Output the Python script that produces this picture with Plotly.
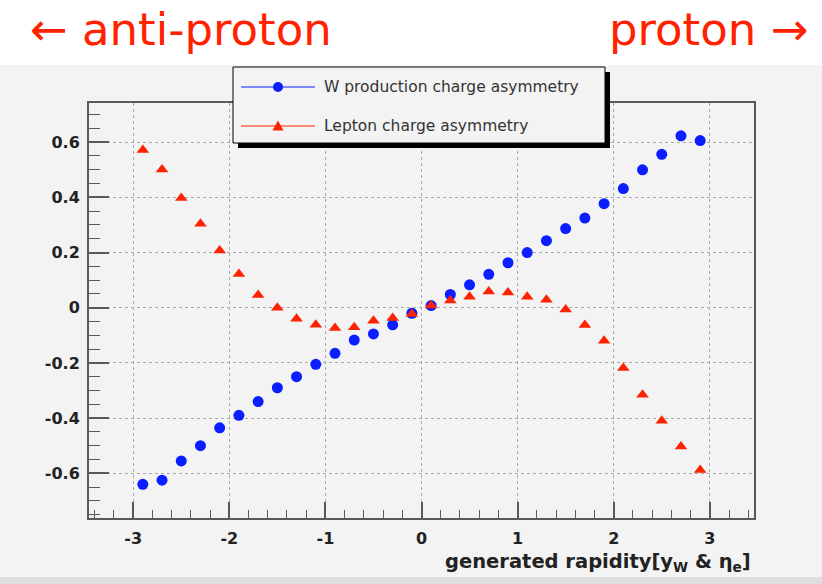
import plotly.graph_objects as go

# ---------------- data ----------------
rapidity = [-2.9, -2.7, -2.5, -2.3, -2.1, -1.9, -1.7, -1.5, -1.3, -1.1,
            -0.9, -0.7, -0.5, -0.3, -0.1, 0.1, 0.3, 0.5, 0.7, 0.9,
            1.1, 1.3, 1.5, 1.7, 1.9, 2.1, 2.3, 2.5, 2.7, 2.9]
w_asym = [-0.640, -0.625, -0.555, -0.500, -0.435, -0.390, -0.340, -0.290, -0.250, -0.205,
          -0.165, -0.117, -0.095, -0.062, -0.020, 0.008, 0.048, 0.083, 0.121, 0.163,
          0.200, 0.243, 0.287, 0.325, 0.377, 0.432, 0.500, 0.556, 0.623, 0.606]
lep_asym = [0.572, 0.501, 0.398, 0.304, 0.207, 0.122, 0.046, 0.000, -0.040, -0.062,
            -0.073, -0.071, -0.047, -0.037, -0.023, 0.008, 0.026, 0.040, 0.059, 0.055,
            0.040, 0.029, -0.006, -0.063, -0.120, -0.218, -0.315, -0.410, -0.503, -0.588]
x_tick_vals = [-3, -2, -1, 0, 1, 2, 3]
x_tick_labels = ["-3", "-2", "-1", "0", "1", "2", "3"]
y_tick_vals = [-0.6, -0.4, -0.2, 0, 0.2, 0.4, 0.6]
y_tick_labels = ["-0.6", "-0.4", "-0.2", "0", "0.2", "0.4", "0.6"]
series_names = ["W production charge asymmetry", "Lepton charge asymmetry"]

# ---------------- layout geometry ----------------
W, H = 822, 584
L, R, T, B = 89, 68, 103, 66
PW, PH = W - L - R, H - T - B

def px(x):
    return (x - L) / PW

def py(y):
    return (H - B - y) / PH

BLUE = "#0a1eff"
RED = "#ff2200"
BG = "#f3f3f3"
AX = "#5a5a5a"
FONT = "DejaVu Sans, sans-serif"

fig = go.Figure()
fig.add_trace(go.Scatter(x=rapidity, y=w_asym, mode="markers", name=series_names[0],
                         marker=dict(symbol="circle", size=11, color=BLUE), showlegend=False))
fig.add_trace(go.Scatter(x=rapidity, y=lep_asym, mode="markers", name=series_names[1],
                         marker=dict(symbol="triangle-up", size=11, color=RED), showlegend=False))

shapes = []
# gray canvas below the title band
shapes.append(dict(type="rect", xref="paper", yref="paper", x0=px(0), x1=px(W), y0=py(H), y1=py(65),
                   fillcolor=BG, line=dict(width=0), layer="below"))
shapes.append(dict(type="rect", xref="paper", yref="paper", x0=px(0), x1=px(W), y0=py(H), y1=py(577),
                   fillcolor="#dedede", line=dict(width=0), layer="below"))
# legend shadow and box
shapes.append(dict(type="rect", xref="paper", yref="paper", x0=px(238), x1=px(610), y0=py(148), y1=py(72),
                   fillcolor="black", line=dict(width=0), layer="above"))
shapes.append(dict(type="rect", xref="paper", yref="paper", x0=px(233), x1=px(605), y0=py(143), y1=py(67),
                   fillcolor=BG, line=dict(color="black", width=1), layer="above"))
# legend line samples
for yy, col in [(87, BLUE), (126, RED)]:
    shapes.append(dict(type="line", xref="paper", yref="paper", x0=px(241), x1=px(315), y0=py(yy), y1=py(yy),
                       line=dict(color=col, width=1), layer="above"))
# legend markers
shapes.append(dict(type="circle", xref="paper", yref="paper", x0=px(273), x1=px(283), y0=py(92), y1=py(82),
                   fillcolor=BLUE, line=dict(width=0), layer="above"))
tri = "M {x0},{y0} L {x1},{y0} L {xm},{y1} Z".format(x0=px(272.5), x1=px(283.5), xm=px(278),
                                                   y0=py(130.5), y1=py(120.5))
shapes.append(dict(type="path", xref="paper", yref="paper", path=tri,
                   fillcolor=RED, line=dict(width=0), layer="above"))

annotations = [
    dict(text="← anti-proton", x=px(28), y=py(30), xref="paper", yref="paper", xanchor="left",
         yanchor="middle", showarrow=False, font=dict(family=FONT, size=45, color=RED)),
    dict(text="proton →", x=px(810), y=py(30), xref="paper", yref="paper", xanchor="right",
         yanchor="middle", showarrow=False, font=dict(family=FONT, size=45, color=RED)),
    dict(text=series_names[0], x=px(322), y=py(87), xref="paper", yref="paper", xanchor="left",
         yanchor="middle", showarrow=False, font=dict(family=FONT, size=15.5, color="#333333")),
    dict(text=series_names[1], x=px(322), y=py(126), xref="paper", yref="paper", xanchor="left",
         yanchor="middle", showarrow=False, font=dict(family=FONT, size=15.5, color="#333333")),
    dict(text="<b>generated rapidity[y<sub>W</sub> &amp; η<sub>e</sub>]</b>", x=px(753), y=py(562),
         xref="paper", yref="paper", xanchor="right", yanchor="middle", showarrow=False,
         font=dict(family=FONT, size=19.5, color="#222222")),
]

fig.update_layout(
    width=W, height=H,
    margin=dict(l=L, r=R, t=T, b=B, pad=0),
    paper_bgcolor="white",
    plot_bgcolor="rgba(0,0,0,0)",
    shapes=shapes,
    annotations=annotations,
    showlegend=False,
    font=dict(family=FONT),
)
fig.update_xaxes(
    range=[-3.46, 3.46], tickvals=x_tick_vals, ticktext=x_tick_labels,
    ticks="inside", ticklen=16, tickwidth=1.5, tickcolor=AX,
    minor=dict(ticks="inside", ticklen=8, tickwidth=1, tickcolor=AX, dtick=0.2, tick0=0, showgrid=False),
    showline=True, linecolor=AX, linewidth=2, mirror=True,
    showgrid=True, gridcolor="#a8a8a8", griddash="dot", gridwidth=1,
    zeroline=False, ticklabelstandoff=5,
    tickfont=dict(family=FONT, size=16, color="#222222", weight="bold"),
)
fig.update_yaxes(
    range=[-0.762, 0.742], tickvals=y_tick_vals, ticktext=y_tick_labels,
    ticks="inside", ticklen=20, tickwidth=1.5, tickcolor=AX,
    minor=dict(ticks="inside", ticklen=11, tickwidth=1, tickcolor=AX, dtick=0.05, tick0=0, showgrid=False),
    showline=True, linecolor=AX, linewidth=2, mirror=True,
    showgrid=True, gridcolor="#a8a8a8", griddash="dot", gridwidth=1,
    zeroline=False, ticklabelstandoff=4,
    tickfont=dict(family=FONT, size=16, color="#222222", weight="bold"),
)

fig.write_html("out.html")
